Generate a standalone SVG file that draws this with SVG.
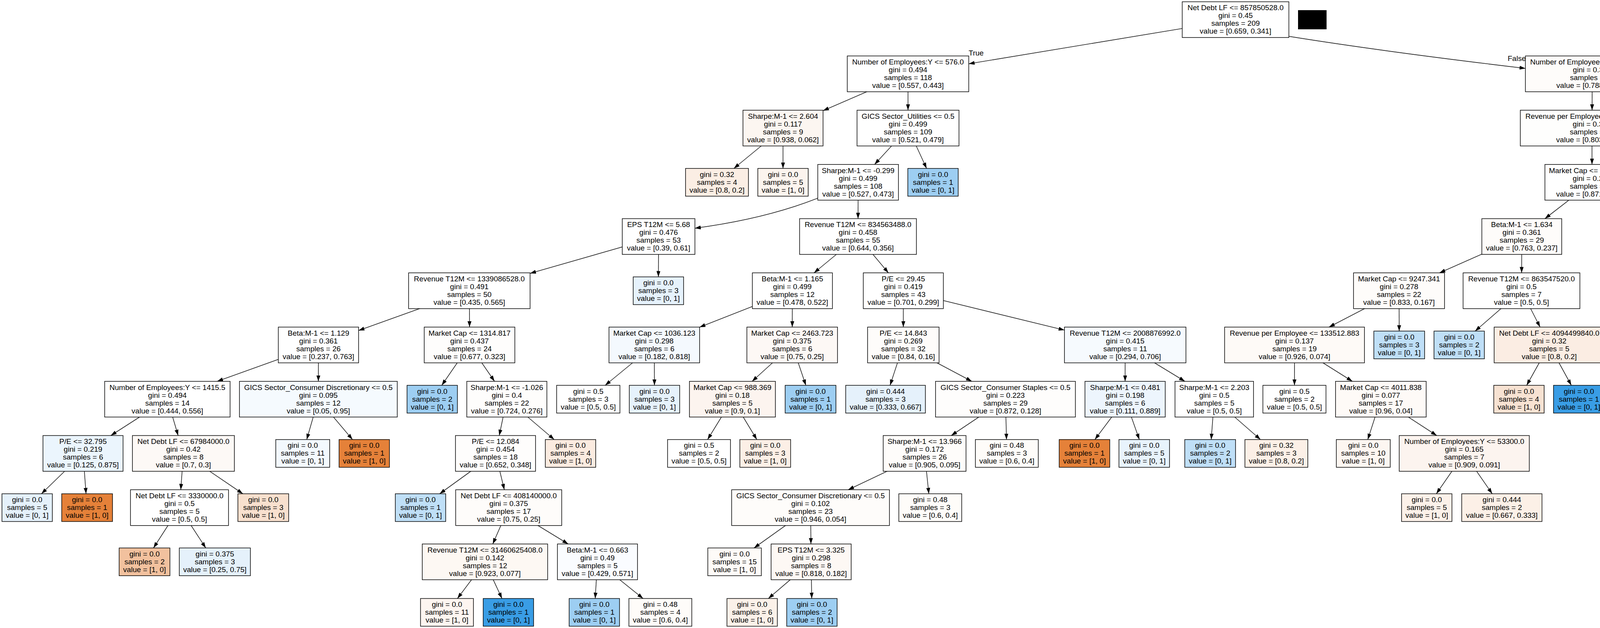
<svg xmlns="http://www.w3.org/2000/svg" width="5680" height="1607" viewBox="0 0 5680 1607">
<style>
.nd rect{stroke:#000;stroke-width:1.5}
text{font-family:"Liberation Sans",Arial,Helvetica,sans-serif;font-size:19px;text-anchor:middle;fill:#000}
#edges path{fill:none;stroke:#1a1a1a;stroke-width:1.6}
</style>
<defs>
<marker id="ah" markerWidth="15" markerHeight="10" refX="15" refY="5" orient="auto" markerUnits="userSpaceOnUse"><path d="M0,0L15,5L0,10z" fill="#000"/></marker>
</defs>
<rect x="0" y="0" width="5680" height="1607" fill="#fff"/>
<g id="edges">
<path d="M3163,50.25L2480,163.3" marker-end="url(#ah)"/>
<path d="M3299.5,93Q3541.75,132 3905,175" marker-end="url(#ah)"/>
<path d="M2324.5,189L2107,283.3" marker-end="url(#ah)"/>
<path d="M2324.5,189L2324.5,282" marker-end="url(#ah)"/>
<path d="M2004.5,327.75L1878.7,431" marker-end="url(#ah)"/>
<path d="M2004.5,327.75L2004.5,431" marker-end="url(#ah)"/>
<path d="M2324.5,327.75L2238.9,420.75" marker-end="url(#ah)"/>
<path d="M2324.5,327.75L2372.1,431" marker-end="url(#ah)"/>
<path d="M2093.5,507Q1960,560 1779,584" marker-end="url(#ah)"/>
<path d="M2196.75,466.5L2196.6,559.5" marker-end="url(#ah)"/>
<path d="M1686,605.25L1357,699.5" marker-end="url(#ah)"/>
<path d="M1686,605.25L1685.5,708.5" marker-end="url(#ah)"/>
<path d="M1201.5,744L918,845.8" marker-end="url(#ah)"/>
<path d="M1201.5,744L1202,837" marker-end="url(#ah)"/>
<path d="M815.25,882.75L556,975.75" marker-end="url(#ah)"/>
<path d="M815.25,882.75L815,975.75" marker-end="url(#ah)"/>
<path d="M428.5,1021.5L283.7,1114.5" marker-end="url(#ah)"/>
<path d="M428.5,1021.5L456,1114.5" marker-end="url(#ah)"/>
<path d="M212.5,1160.25L106.1,1263.5" marker-end="url(#ah)"/>
<path d="M212.5,1160.25L220.3,1263.5" marker-end="url(#ah)"/>
<path d="M469.5,1160.25L462.8,1253.25" marker-end="url(#ah)"/>
<path d="M469.5,1160.25L621.7,1263.5" marker-end="url(#ah)"/>
<path d="M459.5,1299L392.9,1402.25" marker-end="url(#ah)"/>
<path d="M459.5,1299L526.8,1402.25" marker-end="url(#ah)"/>
<path d="M815,1021.5L785.2,1124.75" marker-end="url(#ah)"/>
<path d="M815,1021.5L902.4,1124.75" marker-end="url(#ah)"/>
<path d="M1202,882.75L1130.9,986" marker-end="url(#ah)"/>
<path d="M1202,882.75L1266,975.75" marker-end="url(#ah)"/>
<path d="M1297.5,1021.5L1278.1,1114.5" marker-end="url(#ah)"/>
<path d="M1297.5,1021.5L1418.8,1124.75" marker-end="url(#ah)"/>
<path d="M1268.5,1160.25L1125.6,1263.5" marker-end="url(#ah)"/>
<path d="M1268.5,1160.25L1291.1,1253.25" marker-end="url(#ah)"/>
<path d="M1302.25,1299L1261.5,1392" marker-end="url(#ah)"/>
<path d="M1302.25,1299L1454.6,1392" marker-end="url(#ah)"/>
<path d="M1241.5,1437.75L1171,1531.5" marker-end="url(#ah)"/>
<path d="M1241.5,1437.75L1285,1531.5" marker-end="url(#ah)"/>
<path d="M1529.5,1437.75L1523.7,1531.5" marker-end="url(#ah)"/>
<path d="M1529.5,1437.75L1646.3,1531.5" marker-end="url(#ah)"/>
<path d="M2196.5,605.25L2083.9,698.25" marker-end="url(#ah)"/>
<path d="M2196.5,605.25L2274.3,698.25" marker-end="url(#ah)"/>
<path d="M2028.5,744L1790.9,837.2" marker-end="url(#ah)"/>
<path d="M2028.5,744L2028.2,837" marker-end="url(#ah)"/>
<path d="M1675,882.75L1549.2,986" marker-end="url(#ah)"/>
<path d="M1675,882.75L1675.4,986" marker-end="url(#ah)"/>
<path d="M2028,882.75L1925.4,975.75" marker-end="url(#ah)"/>
<path d="M2028,882.75L2063,986" marker-end="url(#ah)"/>
<path d="M1875,1021.5L1811.4,1124.75" marker-end="url(#ah)"/>
<path d="M1875,1021.5L1937.5,1124.75" marker-end="url(#ah)"/>
<path d="M2312.5,744L2312.5,837" marker-end="url(#ah)"/>
<path d="M2312.5,744L2725,844.8" marker-end="url(#ah)"/>
<path d="M2312.5,882.75L2278.6,986" marker-end="url(#ah)"/>
<path d="M2312.5,882.75L2487.8,975.75" marker-end="url(#ah)"/>
<path d="M2574,1021.5L2435.2,1114.5" marker-end="url(#ah)"/>
<path d="M2574,1021.5L2576.6,1124.75" marker-end="url(#ah)"/>
<path d="M2367,1160.25L2171.3,1253.25" marker-end="url(#ah)"/>
<path d="M2367,1160.25L2377.8,1263.5" marker-end="url(#ah)"/>
<path d="M2075,1299L1930.3,1402.25" marker-end="url(#ah)"/>
<path d="M2075,1299L2076,1392" marker-end="url(#ah)"/>
<path d="M2076.5,1437.75L1967,1531.5" marker-end="url(#ah)"/>
<path d="M2076.5,1437.75L2078,1531.5" marker-end="url(#ah)"/>
<path d="M2880.5,882.75L2880.3,975.75" marker-end="url(#ah)"/>
<path d="M2880.5,882.75L3033.3,975.75" marker-end="url(#ah)"/>
<path d="M2880.25,1021.5L2802.9,1124.75" marker-end="url(#ah)"/>
<path d="M2880.25,1021.5L2916.7,1124.75" marker-end="url(#ah)"/>
<path d="M3108.5,1021.5L3100.7,1124.75" marker-end="url(#ah)"/>
<path d="M3108.5,1021.5L3226.8,1124.75" marker-end="url(#ah)"/>
<path d="M4076,189L4075.7,282" marker-end="url(#ah)"/>
<path d="M4076,189L4298.9,292.25" marker-end="url(#ah)"/>
<path d="M4075.5,327.75L4075.5,420.75" marker-end="url(#ah)"/>
<path d="M4259,372Q4600,412 4862,450" marker-end="url(#ah)"/>
<path d="M4075.5,466.5L3955,559.5" marker-end="url(#ah)"/>
<path d="M4075.5,466.5L4198.5,559.5" marker-end="url(#ah)"/>
<path d="M5017,466.5L5017.3,559.5" marker-end="url(#ah)"/>
<path d="M5017,466.5L5213,564.9" marker-end="url(#ah)"/>
<path d="M3895.75,605.25L3685.1,698.25" marker-end="url(#ah)"/>
<path d="M3895.75,605.25L3895.4,698.25" marker-end="url(#ah)"/>
<path d="M4259,605.25L4259,698.25" marker-end="url(#ah)"/>
<path d="M4259,605.25L4497.6,698.25" marker-end="url(#ah)"/>
<path d="M5017.5,605.25L4970.9,698.25" marker-end="url(#ah)"/>
<path d="M5017.5,605.25L5109,708.5" marker-end="url(#ah)"/>
<path d="M5293.5,605.25L5293.9,708.5" marker-end="url(#ah)"/>
<path d="M5293.5,605.25L5441,698.25" marker-end="url(#ah)"/>
<path d="M3581.5,744L3402.2,837" marker-end="url(#ah)"/>
<path d="M3581.5,744L3581.9,847.25" marker-end="url(#ah)"/>
<path d="M3895,744L3776.3,847.25" marker-end="url(#ah)"/>
<path d="M3895,744L3942.6,837" marker-end="url(#ah)"/>
<path d="M4259,744L4215.5,847.25" marker-end="url(#ah)"/>
<path d="M4259,744L4361.5,847.25" marker-end="url(#ah)"/>
<path d="M4615,744L4615,847.25" marker-end="url(#ah)"/>
<path d="M4615,744L4748.9,847.25" marker-end="url(#ah)"/>
<path d="M4948,744L4948.4,847.25" marker-end="url(#ah)"/>
<path d="M4948,744L5062.2,847.25" marker-end="url(#ah)"/>
<path d="M5513.5,744L5449.8,837" marker-end="url(#ah)"/>
<path d="M5513.5,744L5584.9,847.25" marker-end="url(#ah)"/>
<path d="M3314,882.75L3313.8,986" marker-end="url(#ah)"/>
<path d="M3314,882.75L3462.1,975.75" marker-end="url(#ah)"/>
<path d="M3966,882.75L3908.3,986" marker-end="url(#ah)"/>
<path d="M3966,882.75L4022.6,986" marker-end="url(#ah)"/>
<path d="M5418.5,882.75L5346.5,986" marker-end="url(#ah)"/>
<path d="M5418.5,882.75L5488.4,986" marker-end="url(#ah)"/>
<path d="M3535,1021.5L3501.5,1124.75" marker-end="url(#ah)"/>
<path d="M3535,1021.5L3678.1,1114.5" marker-end="url(#ah)"/>
<path d="M3748.5,1160.25L3677.1,1263.5" marker-end="url(#ah)"/>
<path d="M3748.5,1160.25L3820.1,1263.5" marker-end="url(#ah)"/>
<text x="2499" y="141.5">True</text>
<text x="3883" y="155.5">False</text>
</g>
<rect id="blackbox" x="3323" y="26" width="73" height="49" fill="#000"/>
<g id="nodes">
<g id="n0" class="nd" transform="translate(3163,50.25)"><rect x="-136.5" y="-45.75" width="273" height="91.5" fill="#ffffff"/><text><tspan x="0" y="-24">Net Debt LF &lt;= 857850528.0</tspan><tspan x="0" y="-4">gini = 0.45</tspan><tspan x="0" y="16">samples = 209</tspan><tspan x="0" y="36">value = [0.659, 0.341]</tspan></text></g>
<g id="n1" class="nd" transform="translate(2324.5,189)"><rect x="-155.5" y="-45.75" width="311" height="91.5" fill="#ffffff"/><text><tspan x="0" y="-24">Number of Employees:Y &lt;= 576.0</tspan><tspan x="0" y="-4">gini = 0.494</tspan><tspan x="0" y="16">samples = 118</tspan><tspan x="0" y="36">value = [0.557, 0.443]</tspan></text></g>
<g id="n2" class="nd" transform="translate(4076,189)"><rect x="-171" y="-45.75" width="342" height="91.5" fill="#fefcfa"/><text><tspan x="0" y="-24">Number of Employees:Y &lt;= 338300.0</tspan><tspan x="0" y="-4">gini = 0.334</tspan><tspan x="0" y="16">samples = 91</tspan><tspan x="0" y="36">value = [0.788, 0.212]</tspan></text></g>
<g id="n3" class="nd" transform="translate(2004.5,327.75)"><rect x="-102.5" y="-45.75" width="205" height="91.5" fill="#fcf6f1"/><text><tspan x="0" y="-24">Sharpe:M-1 &lt;= 2.604</tspan><tspan x="0" y="-4">gini = 0.117</tspan><tspan x="0" y="16">samples = 9</tspan><tspan x="0" y="36">value = [0.938, 0.062]</tspan></text></g>
<g id="n4" class="nd" transform="translate(2324.5,327.75)"><rect x="-130.5" y="-45.75" width="261" height="91.5" fill="#ffffff"/><text><tspan x="0" y="-24">GICS Sector_Utilities &lt;= 0.5</tspan><tspan x="0" y="-4">gini = 0.499</tspan><tspan x="0" y="16">samples = 109</tspan><tspan x="0" y="36">value = [0.521, 0.479]</tspan></text></g>
<g id="n5" class="nd" transform="translate(4075.5,327.75)"><rect x="-183.5" y="-45.75" width="367" height="91.5" fill="#fefefd"/><text><tspan x="0" y="-24">Revenue per Employee &lt;= 1148244.062</tspan><tspan x="0" y="-4">gini = 0.317</tspan><tspan x="0" y="16">samples = 88</tspan><tspan x="0" y="36">value = [0.803, 0.197]</tspan></text></g>
<g id="n6" class="nd" transform="translate(4375.5,327.75)"><rect x="-90.5" y="-35.5" width="181" height="71" fill="#e4f1fb"/><text><tspan x="0" y="-14">gini = 0.375</tspan><tspan x="0" y="6">samples = 3</tspan><tspan x="0" y="26">value = [0.25, 0.75]</tspan></text></g>
<g id="n7" class="nd" transform="translate(1835.5,466.5)"><rect x="-80.5" y="-35.5" width="161" height="71" fill="#fbeee4"/><text><tspan x="0" y="-14">gini = 0.32</tspan><tspan x="0" y="6">samples = 4</tspan><tspan x="0" y="26">value = [0.8, 0.2]</tspan></text></g>
<g id="n8" class="nd" transform="translate(2004.5,466.5)"><rect x="-64.5" y="-35.5" width="129" height="71" fill="#fcf4ee"/><text><tspan x="0" y="-14">gini = 0.0</tspan><tspan x="0" y="6">samples = 5</tspan><tspan x="0" y="26">value = [1, 0]</tspan></text></g>
<g id="n9" class="nd" transform="translate(2196.75,466.5)"><rect x="-103.25" y="-45.75" width="206.5" height="91.5" fill="#ffffff"/><text><tspan x="0" y="-24">Sharpe:M-1 &lt;= -0.299</tspan><tspan x="0" y="-4">gini = 0.499</tspan><tspan x="0" y="16">samples = 108</tspan><tspan x="0" y="36">value = [0.527, 0.473]</tspan></text></g>
<g id="n10" class="nd" transform="translate(2388.5,466.5)"><rect x="-64.5" y="-35.5" width="129" height="71" fill="#9dcef2"/><text><tspan x="0" y="-14">gini = 0.0</tspan><tspan x="0" y="6">samples = 1</tspan><tspan x="0" y="26">value = [0, 1]</tspan></text></g>
<g id="n11" class="nd" transform="translate(4075.5,466.5)"><rect x="-120.5" y="-45.75" width="241" height="91.5" fill="#ffffff"/><text><tspan x="0" y="-24">Market Cap &lt;= 10645.638</tspan><tspan x="0" y="-4">gini = 0.224</tspan><tspan x="0" y="16">samples = 65</tspan><tspan x="0" y="36">value = [0.871, 0.129]</tspan></text></g>
<g id="n12" class="nd" transform="translate(5017,466.5)"><rect x="-155" y="-45.75" width="310" height="91.5" fill="#ffffff"/><text><tspan x="0" y="-24">Revenue T12M &lt;= 1957673536.0</tspan><tspan x="0" y="-4">gini = 0.464</tspan><tspan x="0" y="16">samples = 23</tspan><tspan x="0" y="36">value = [0.634, 0.366]</tspan></text></g>
<g id="n13" class="nd" transform="translate(1686,605.25)"><rect x="-93" y="-45.75" width="186" height="91.5" fill="#ffffff"/><text><tspan x="0" y="-24">EPS T12M &lt;= 5.68</tspan><tspan x="0" y="-4">gini = 0.476</tspan><tspan x="0" y="16">samples = 53</tspan><tspan x="0" y="36">value = [0.39, 0.61]</tspan></text></g>
<g id="n14" class="nd" transform="translate(2196.5,605.25)"><rect x="-149.5" y="-45.75" width="299" height="91.5" fill="#ffffff"/><text><tspan x="0" y="-24">Revenue T12M &lt;= 834563488.0</tspan><tspan x="0" y="-4">gini = 0.458</tspan><tspan x="0" y="16">samples = 55</tspan><tspan x="0" y="36">value = [0.644, 0.356]</tspan></text></g>
<g id="n15" class="nd" transform="translate(3895.75,605.25)"><rect x="-102.25" y="-45.75" width="204.5" height="91.5" fill="#fefcfa"/><text><tspan x="0" y="-24">Beta:M-1 &lt;= 1.634</tspan><tspan x="0" y="-4">gini = 0.361</tspan><tspan x="0" y="16">samples = 29</tspan><tspan x="0" y="36">value = [0.763, 0.237]</tspan></text></g>
<g id="n16" class="nd" transform="translate(4259,605.25)"><rect x="-103" y="-45.75" width="206" height="91.5" fill="#fefcfa"/><text><tspan x="0" y="-24">Sharpe:M-1 &lt;= 2.126</tspan><tspan x="0" y="-4">gini = 0.119</tspan><tspan x="0" y="16">samples = 36</tspan><tspan x="0" y="36">value = [0.937, 0.063]</tspan></text></g>
<g id="n17" class="nd" transform="translate(5017.5,605.25)"><rect x="-102.5" y="-45.75" width="205" height="91.5" fill="#fdfaf6"/><text><tspan x="0" y="-24">Beta:M-1 &lt;= 0.707</tspan><tspan x="0" y="-4">gini = 0.091</tspan><tspan x="0" y="16">samples = 11</tspan><tspan x="0" y="36">value = [0.952, 0.048]</tspan></text></g>
<g id="n18" class="nd" transform="translate(5293.5,605.25)"><rect x="-80.5" y="-45.75" width="161" height="91.5" fill="#f8fbfe"/><text><tspan x="0" y="-24">P/E &lt;= 13.922</tspan><tspan x="0" y="-4">gini = 0.42</tspan><tspan x="0" y="16">samples = 12</tspan><tspan x="0" y="36">value = [0.3, 0.7]</tspan></text></g>
<g id="n19" class="nd" transform="translate(1201.5,744)"><rect x="-155.5" y="-45.75" width="311" height="91.5" fill="#ffffff"/><text><tspan x="0" y="-24">Revenue T12M &lt;= 1339086528.0</tspan><tspan x="0" y="-4">gini = 0.491</tspan><tspan x="0" y="16">samples = 50</tspan><tspan x="0" y="36">value = [0.435, 0.565]</tspan></text></g>
<g id="n20" class="nd" transform="translate(1685.5,744)"><rect x="-64.5" y="-35.5" width="129" height="71" fill="#e6f2fc"/><text><tspan x="0" y="-14">gini = 0.0</tspan><tspan x="0" y="6">samples = 3</tspan><tspan x="0" y="26">value = [0, 1]</tspan></text></g>
<g id="n21" class="nd" transform="translate(2028.5,744)"><rect x="-102.5" y="-45.75" width="205" height="91.5" fill="#ffffff"/><text><tspan x="0" y="-24">Beta:M-1 &lt;= 1.165</tspan><tspan x="0" y="-4">gini = 0.499</tspan><tspan x="0" y="16">samples = 12</tspan><tspan x="0" y="36">value = [0.478, 0.522]</tspan></text></g>
<g id="n22" class="nd" transform="translate(2312.5,744)"><rect x="-102.5" y="-45.75" width="205" height="91.5" fill="#ffffff"/><text><tspan x="0" y="-24">P/E &lt;= 29.45</tspan><tspan x="0" y="-4">gini = 0.419</tspan><tspan x="0" y="16">samples = 43</tspan><tspan x="0" y="36">value = [0.701, 0.299]</tspan></text></g>
<g id="n23" class="nd" transform="translate(3581.5,744)"><rect x="-116.5" y="-45.75" width="233" height="91.5" fill="#fefcfa"/><text><tspan x="0" y="-24">Market Cap &lt;= 9247.341</tspan><tspan x="0" y="-4">gini = 0.278</tspan><tspan x="0" y="16">samples = 22</tspan><tspan x="0" y="36">value = [0.833, 0.167]</tspan></text></g>
<g id="n24" class="nd" transform="translate(3895,744)"><rect x="-149.5" y="-45.75" width="299" height="91.5" fill="#ffffff"/><text><tspan x="0" y="-24">Revenue T12M &lt;= 863547520.0</tspan><tspan x="0" y="-4">gini = 0.5</tspan><tspan x="0" y="16">samples = 7</tspan><tspan x="0" y="36">value = [0.5, 0.5]</tspan></text></g>
<g id="n25" class="nd" transform="translate(4259,744)"><rect x="-143" y="-45.75" width="286" height="91.5" fill="#fefcfa"/><text><tspan x="0" y="-24">GICS Sector_Industrials &lt;= 0.5</tspan><tspan x="0" y="-4">gini = 0.036</tspan><tspan x="0" y="16">samples = 30</tspan><tspan x="0" y="36">value = [0.981, 0.019]</tspan></text></g>
<g id="n26" class="nd" transform="translate(4615,744)"><rect x="-166" y="-45.75" width="332" height="91.5" fill="#fefaf7"/><text><tspan x="0" y="-24">Number of Employees:Y &lt;= 40500.0</tspan><tspan x="0" y="-4">gini = 0.444</tspan><tspan x="0" y="16">samples = 6</tspan><tspan x="0" y="36">value = [0.667, 0.333]</tspan></text></g>
<g id="n27" class="nd" transform="translate(4948,744)"><rect x="-102" y="-45.75" width="204" height="91.5" fill="#fbf0e7"/><text><tspan x="0" y="-24">P/E &lt;= 436.565</tspan><tspan x="0" y="-4">gini = 0.278</tspan><tspan x="0" y="16">samples = 5</tspan><tspan x="0" y="36">value = [0.833, 0.167]</tspan></text></g>
<g id="n28" class="nd" transform="translate(5140.5,744)"><rect x="-64.5" y="-35.5" width="129" height="71" fill="#fdf8f3"/><text><tspan x="0" y="-14">gini = 0.0</tspan><tspan x="0" y="6">samples = 6</tspan><tspan x="0" y="26">value = [1, 0]</tspan></text></g>
<g id="n29" class="nd" transform="translate(5294,744)"><rect x="-64" y="-35.5" width="128" height="71" fill="#e3f0fb"/><text><tspan x="0" y="-14">gini = 0.0</tspan><tspan x="0" y="6">samples = 4</tspan><tspan x="0" y="26">value = [0, 1]</tspan></text></g>
<g id="n30" class="nd" transform="translate(5513.5,744)"><rect x="-130.5" y="-45.75" width="261" height="91.5" fill="#ffffff"/><text><tspan x="0" y="-24">GICS Sector_Energy &lt;= 0.5</tspan><tspan x="0" y="-4">gini = 0.497</tspan><tspan x="0" y="16">samples = 8</tspan><tspan x="0" y="36">value = [0.462, 0.538]</tspan></text></g>
<g id="n31" class="nd" transform="translate(815.25,882.75)"><rect x="-102.75" y="-45.75" width="205.5" height="91.5" fill="#ffffff"/><text><tspan x="0" y="-24">Beta:M-1 &lt;= 1.129</tspan><tspan x="0" y="-4">gini = 0.361</tspan><tspan x="0" y="16">samples = 26</tspan><tspan x="0" y="36">value = [0.237, 0.763]</tspan></text></g>
<g id="n32" class="nd" transform="translate(1202,882.75)"><rect x="-116" y="-45.75" width="232" height="91.5" fill="#fefdfc"/><text><tspan x="0" y="-24">Market Cap &lt;= 1314.817</tspan><tspan x="0" y="-4">gini = 0.437</tspan><tspan x="0" y="16">samples = 24</tspan><tspan x="0" y="36">value = [0.677, 0.323]</tspan></text></g>
<g id="n33" class="nd" transform="translate(1675,882.75)"><rect x="-116" y="-45.75" width="232" height="91.5" fill="#f4f9fe"/><text><tspan x="0" y="-24">Market Cap &lt;= 1036.123</tspan><tspan x="0" y="-4">gini = 0.298</tspan><tspan x="0" y="16">samples = 6</tspan><tspan x="0" y="36">value = [0.182, 0.818]</tspan></text></g>
<g id="n34" class="nd" transform="translate(2028,882.75)"><rect x="-116" y="-45.75" width="232" height="91.5" fill="#fdf8f5"/><text><tspan x="0" y="-24">Market Cap &lt;= 2463.723</tspan><tspan x="0" y="-4">gini = 0.375</tspan><tspan x="0" y="16">samples = 6</tspan><tspan x="0" y="36">value = [0.75, 0.25]</tspan></text></g>
<g id="n35" class="nd" transform="translate(2312.5,882.75)"><rect x="-91.5" y="-45.75" width="183" height="91.5" fill="#fefcfa"/><text><tspan x="0" y="-24">P/E &lt;= 14.843</tspan><tspan x="0" y="-4">gini = 0.269</tspan><tspan x="0" y="16">samples = 32</tspan><tspan x="0" y="36">value = [0.84, 0.16]</tspan></text></g>
<g id="n36" class="nd" transform="translate(2880.5,882.75)"><rect x="-155.5" y="-45.75" width="311" height="91.5" fill="#f6fafe"/><text><tspan x="0" y="-24">Revenue T12M &lt;= 2008876992.0</tspan><tspan x="0" y="-4">gini = 0.415</tspan><tspan x="0" y="16">samples = 11</tspan><tspan x="0" y="36">value = [0.294, 0.706]</tspan></text></g>
<g id="n37" class="nd" transform="translate(3314,882.75)"><rect x="-179" y="-45.75" width="358" height="91.5" fill="#fefaf7"/><text><tspan x="0" y="-24">Revenue per Employee &lt;= 133512.883</tspan><tspan x="0" y="-4">gini = 0.137</tspan><tspan x="0" y="16">samples = 19</tspan><tspan x="0" y="36">value = [0.926, 0.074]</tspan></text></g>
<g id="n38" class="nd" transform="translate(3582,882.75)"><rect x="-65" y="-35.5" width="130" height="71" fill="#bfdff7"/><text><tspan x="0" y="-14">gini = 0.0</tspan><tspan x="0" y="6">samples = 3</tspan><tspan x="0" y="26">value = [0, 1]</tspan></text></g>
<g id="n39" class="nd" transform="translate(3735.5,882.75)"><rect x="-64.5" y="-35.5" width="129" height="71" fill="#bfdff7"/><text><tspan x="0" y="-14">gini = 0.0</tspan><tspan x="0" y="6">samples = 2</tspan><tspan x="0" y="26">value = [0, 1]</tspan></text></g>
<g id="n40" class="nd" transform="translate(3966,882.75)"><rect x="-141" y="-45.75" width="282" height="91.5" fill="#fbede3"/><text><tspan x="0" y="-24">Net Debt LF &lt;= 4094499840.0</tspan><tspan x="0" y="-4">gini = 0.32</tspan><tspan x="0" y="16">samples = 5</tspan><tspan x="0" y="36">value = [0.8, 0.2]</tspan></text></g>
<g id="n41" class="nd" transform="translate(4200.5,882.75)"><rect x="-68.5" y="-35.5" width="137" height="71" fill="#fefcfa"/><text><tspan x="0" y="-14">gini = 0.0</tspan><tspan x="0" y="6">samples = 26</tspan><tspan x="0" y="26">value = [1, 0]</tspan></text></g>
<g id="n42" class="nd" transform="translate(4396.75,882.75)"><rect x="-102.25" y="-35.5" width="204.5" height="71" fill="#fbf0e7"/><text><tspan x="0" y="-14">gini = 0.278</tspan><tspan x="0" y="6">samples = 4</tspan><tspan x="0" y="26">value = [0.833, 0.167]</tspan></text></g>
<g id="n43" class="nd" transform="translate(4615,882.75)"><rect x="-91" y="-35.5" width="182" height="71" fill="#e3f0fb"/><text><tspan x="0" y="-14">gini = 0.375</tspan><tspan x="0" y="6">samples = 3</tspan><tspan x="0" y="26">value = [0.25, 0.75]</tspan></text></g>
<g id="n44" class="nd" transform="translate(4795,882.75)"><rect x="-64" y="-35.5" width="128" height="71" fill="#f9e5d6"/><text><tspan x="0" y="-14">gini = 0.0</tspan><tspan x="0" y="6">samples = 3</tspan><tspan x="0" y="26">value = [1, 0]</tspan></text></g>
<g id="n45" class="nd" transform="translate(4948.5,882.75)"><rect x="-64.5" y="-35.5" width="129" height="71" fill="#f8e5d6"/><text><tspan x="0" y="-14">gini = 0.0</tspan><tspan x="0" y="6">samples = 4</tspan><tspan x="0" y="26">value = [1, 0]</tspan></text></g>
<g id="n46" class="nd" transform="translate(5101.5,882.75)"><rect x="-64.5" y="-35.5" width="129" height="71" fill="#399de5"/><text><tspan x="0" y="-14">gini = 0.0</tspan><tspan x="0" y="6">samples = 1</tspan><tspan x="0" y="26">value = [0, 1]</tspan></text></g>
<g id="n47" class="nd" transform="translate(5418.5,882.75)"><rect x="-102.5" y="-45.75" width="205" height="91.5" fill="#fcf0e8"/><text><tspan x="0" y="-24">Beta:M-1 &lt;= 0.906</tspan><tspan x="0" y="-4">gini = 0.245</tspan><tspan x="0" y="16">samples = 5</tspan><tspan x="0" y="36">value = [0.857, 0.143]</tspan></text></g>
<g id="n48" class="nd" transform="translate(5609.5,882.75)"><rect x="-64.5" y="-35.5" width="129" height="71" fill="#e3f0fb"/><text><tspan x="0" y="-14">gini = 0.0</tspan><tspan x="0" y="6">samples = 3</tspan><tspan x="0" y="26">value = [0, 1]</tspan></text></g>
<g id="n49" class="nd" transform="translate(428.5,1021.5)"><rect x="-160.5" y="-45.75" width="321" height="91.5" fill="#ffffff"/><text><tspan x="0" y="-24">Number of Employees:Y &lt;= 1415.5</tspan><tspan x="0" y="-4">gini = 0.494</tspan><tspan x="0" y="16">samples = 14</tspan><tspan x="0" y="36">value = [0.444, 0.556]</tspan></text></g>
<g id="n50" class="nd" transform="translate(815,1021.5)"><rect x="-202" y="-45.75" width="404" height="91.5" fill="#f5fafe"/><text><tspan x="0" y="-24">GICS Sector_Consumer Discretionary &lt;= 0.5</tspan><tspan x="0" y="-4">gini = 0.095</tspan><tspan x="0" y="16">samples = 12</tspan><tspan x="0" y="36">value = [0.05, 0.95]</tspan></text></g>
<g id="n51" class="nd" transform="translate(1106.5,1021.5)"><rect x="-64.5" y="-35.5" width="129" height="71" fill="#9dcef2"/><text><tspan x="0" y="-14">gini = 0.0</tspan><tspan x="0" y="6">samples = 2</tspan><tspan x="0" y="26">value = [0, 1]</tspan></text></g>
<g id="n52" class="nd" transform="translate(1297.5,1021.5)"><rect x="-102.5" y="-45.75" width="205" height="91.5" fill="#fefdfc"/><text><tspan x="0" y="-24">Sharpe:M-1 &lt;= -1.026</tspan><tspan x="0" y="-4">gini = 0.4</tspan><tspan x="0" y="16">samples = 22</tspan><tspan x="0" y="36">value = [0.724, 0.276]</tspan></text></g>
<g id="n53" class="nd" transform="translate(1506,1021.5)"><rect x="-81" y="-35.5" width="162" height="71" fill="#ffffff"/><text><tspan x="0" y="-14">gini = 0.5</tspan><tspan x="0" y="6">samples = 3</tspan><tspan x="0" y="26">value = [0.5, 0.5]</tspan></text></g>
<g id="n54" class="nd" transform="translate(1675.5,1021.5)"><rect x="-64.5" y="-35.5" width="129" height="71" fill="#e6f2fc"/><text><tspan x="0" y="-14">gini = 0.0</tspan><tspan x="0" y="6">samples = 3</tspan><tspan x="0" y="26">value = [0, 1]</tspan></text></g>
<g id="n55" class="nd" transform="translate(1875,1021.5)"><rect x="-110" y="-45.75" width="220" height="91.5" fill="#fcf4ef"/><text><tspan x="0" y="-24">Market Cap &lt;= 988.369</tspan><tspan x="0" y="-4">gini = 0.18</tspan><tspan x="0" y="16">samples = 5</tspan><tspan x="0" y="36">value = [0.9, 0.1]</tspan></text></g>
<g id="n56" class="nd" transform="translate(2075,1021.5)"><rect x="-65" y="-35.5" width="130" height="71" fill="#9dcef2"/><text><tspan x="0" y="-14">gini = 0.0</tspan><tspan x="0" y="6">samples = 1</tspan><tspan x="0" y="26">value = [0, 1]</tspan></text></g>
<g id="n57" class="nd" transform="translate(2267,1021.5)"><rect x="-102" y="-35.5" width="204" height="71" fill="#e5f1fb"/><text><tspan x="0" y="-14">gini = 0.444</tspan><tspan x="0" y="6">samples = 3</tspan><tspan x="0" y="26">value = [0.333, 0.667]</tspan></text></g>
<g id="n58" class="nd" transform="translate(2574,1021.5)"><rect x="-179" y="-45.75" width="358" height="91.5" fill="#fefdfc"/><text><tspan x="0" y="-24">GICS Sector_Consumer Staples &lt;= 0.5</tspan><tspan x="0" y="-4">gini = 0.223</tspan><tspan x="0" y="16">samples = 29</tspan><tspan x="0" y="36">value = [0.872, 0.128]</tspan></text></g>
<g id="n59" class="nd" transform="translate(2880.25,1021.5)"><rect x="-102.75" y="-45.75" width="205.5" height="91.5" fill="#edf5fd"/><text><tspan x="0" y="-24">Sharpe:M-1 &lt;= 0.481</tspan><tspan x="0" y="-4">gini = 0.198</tspan><tspan x="0" y="16">samples = 6</tspan><tspan x="0" y="36">value = [0.111, 0.889]</tspan></text></g>
<g id="n60" class="nd" transform="translate(3108.5,1021.5)"><rect x="-100.5" y="-45.75" width="201" height="91.5" fill="#ffffff"/><text><tspan x="0" y="-24">Sharpe:M-1 &lt;= 2.203</tspan><tspan x="0" y="-4">gini = 0.5</tspan><tspan x="0" y="16">samples = 5</tspan><tspan x="0" y="36">value = [0.5, 0.5]</tspan></text></g>
<g id="n61" class="nd" transform="translate(3313.75,1021.5)"><rect x="-80.75" y="-35.5" width="161.5" height="71" fill="#ffffff"/><text><tspan x="0" y="-14">gini = 0.5</tspan><tspan x="0" y="6">samples = 2</tspan><tspan x="0" y="26">value = [0.5, 0.5]</tspan></text></g>
<g id="n62" class="nd" transform="translate(3535,1021.5)"><rect x="-116" y="-45.75" width="232" height="91.5" fill="#fefaf7"/><text><tspan x="0" y="-24">Market Cap &lt;= 4011.838</tspan><tspan x="0" y="-4">gini = 0.077</tspan><tspan x="0" y="16">samples = 17</tspan><tspan x="0" y="36">value = [0.96, 0.04]</tspan></text></g>
<g id="n63" class="nd" transform="translate(3888.5,1021.5)"><rect x="-64.5" y="-35.5" width="129" height="71" fill="#f7e2d2"/><text><tspan x="0" y="-14">gini = 0.0</tspan><tspan x="0" y="6">samples = 4</tspan><tspan x="0" y="26">value = [1, 0]</tspan></text></g>
<g id="n64" class="nd" transform="translate(4042,1021.5)"><rect x="-65" y="-35.5" width="130" height="71" fill="#399de5"/><text><tspan x="0" y="-14">gini = 0.0</tspan><tspan x="0" y="6">samples = 1</tspan><tspan x="0" y="26">value = [0, 1]</tspan></text></g>
<g id="n65" class="nd" transform="translate(5321.75,1021.5)"><rect x="-102.25" y="-35.5" width="204.5" height="71" fill="#fcefe6"/><text><tspan x="0" y="-14">gini = 0.444</tspan><tspan x="0" y="6">samples = 3</tspan><tspan x="0" y="26">value = [0.667, 0.333]</tspan></text></g>
<g id="n66" class="nd" transform="translate(5512.5,1021.5)"><rect x="-63.5" y="-35.5" width="127" height="71" fill="#f8e2d2"/><text><tspan x="0" y="-14">gini = 0.0</tspan><tspan x="0" y="6">samples = 2</tspan><tspan x="0" y="26">value = [1, 0]</tspan></text></g>
<g id="n67" class="nd" transform="translate(212.5,1160.25)"><rect x="-102.5" y="-45.75" width="205" height="91.5" fill="#ebf5fd"/><text><tspan x="0" y="-24">P/E &lt;= 32.795</tspan><tspan x="0" y="-4">gini = 0.219</tspan><tspan x="0" y="16">samples = 6</tspan><tspan x="0" y="36">value = [0.125, 0.875]</tspan></text></g>
<g id="n68" class="nd" transform="translate(469.5,1160.25)"><rect x="-130.5" y="-45.75" width="261" height="91.5" fill="#fdf9f6"/><text><tspan x="0" y="-24">Net Debt LF &lt;= 67984000.0</tspan><tspan x="0" y="-4">gini = 0.42</tspan><tspan x="0" y="16">samples = 8</tspan><tspan x="0" y="36">value = [0.7, 0.3]</tspan></text></g>
<g id="n69" class="nd" transform="translate(775,1160.25)"><rect x="-69" y="-35.5" width="138" height="71" fill="#f3f9fe"/><text><tspan x="0" y="-14">gini = 0.0</tspan><tspan x="0" y="6">samples = 11</tspan><tspan x="0" y="26">value = [0, 1]</tspan></text></g>
<g id="n70" class="nd" transform="translate(932.5,1160.25)"><rect x="-64.5" y="-35.5" width="129" height="71" fill="#e58139"/><text><tspan x="0" y="-14">gini = 0.0</tspan><tspan x="0" y="6">samples = 1</tspan><tspan x="0" y="26">value = [1, 0]</tspan></text></g>
<g id="n71" class="nd" transform="translate(1268.5,1160.25)"><rect x="-102.5" y="-45.75" width="205" height="91.5" fill="#fefdfc"/><text><tspan x="0" y="-24">P/E &lt;= 12.084</tspan><tspan x="0" y="-4">gini = 0.454</tspan><tspan x="0" y="16">samples = 18</tspan><tspan x="0" y="36">value = [0.652, 0.348]</tspan></text></g>
<g id="n72" class="nd" transform="translate(1460.5,1160.25)"><rect x="-64.5" y="-35.5" width="129" height="71" fill="#fbebe0"/><text><tspan x="0" y="-14">gini = 0.0</tspan><tspan x="0" y="6">samples = 4</tspan><tspan x="0" y="26">value = [1, 0]</tspan></text></g>
<g id="n73" class="nd" transform="translate(1789.5,1160.25)"><rect x="-80.5" y="-35.5" width="161" height="71" fill="#ffffff"/><text><tspan x="0" y="-14">gini = 0.5</tspan><tspan x="0" y="6">samples = 2</tspan><tspan x="0" y="26">value = [0.5, 0.5]</tspan></text></g>
<g id="n74" class="nd" transform="translate(1959,1160.25)"><rect x="-65" y="-35.5" width="130" height="71" fill="#fcefe6"/><text><tspan x="0" y="-14">gini = 0.0</tspan><tspan x="0" y="6">samples = 3</tspan><tspan x="0" y="26">value = [1, 0]</tspan></text></g>
<g id="n75" class="nd" transform="translate(2367,1160.25)"><rect x="-106" y="-45.75" width="212" height="91.5" fill="#fefcfa"/><text><tspan x="0" y="-24">Sharpe:M-1 &lt;= 13.966</tspan><tspan x="0" y="-4">gini = 0.172</tspan><tspan x="0" y="16">samples = 26</tspan><tspan x="0" y="36">value = [0.905, 0.095]</tspan></text></g>
<g id="n76" class="nd" transform="translate(2577.5,1160.25)"><rect x="-80.5" y="-35.5" width="161" height="71" fill="#fefcf9"/><text><tspan x="0" y="-14">gini = 0.48</tspan><tspan x="0" y="6">samples = 3</tspan><tspan x="0" y="26">value = [0.6, 0.4]</tspan></text></g>
<g id="n77" class="nd" transform="translate(2776.25,1160.25)"><rect x="-64.75" y="-35.5" width="129.5" height="71" fill="#e58139"/><text><tspan x="0" y="-14">gini = 0.0</tspan><tspan x="0" y="6">samples = 1</tspan><tspan x="0" y="26">value = [1, 0]</tspan></text></g>
<g id="n78" class="nd" transform="translate(2929.25,1160.25)"><rect x="-64.75" y="-35.5" width="129.5" height="71" fill="#e8f3fc"/><text><tspan x="0" y="-14">gini = 0.0</tspan><tspan x="0" y="6">samples = 5</tspan><tspan x="0" y="26">value = [0, 1]</tspan></text></g>
<g id="n79" class="nd" transform="translate(3098,1160.25)"><rect x="-65" y="-35.5" width="130" height="71" fill="#bfdff7"/><text><tspan x="0" y="-14">gini = 0.0</tspan><tspan x="0" y="6">samples = 2</tspan><tspan x="0" y="26">value = [0, 1]</tspan></text></g>
<g id="n80" class="nd" transform="translate(3267.5,1160.25)"><rect x="-80.5" y="-35.5" width="161" height="71" fill="#fcf0e7"/><text><tspan x="0" y="-14">gini = 0.32</tspan><tspan x="0" y="6">samples = 3</tspan><tspan x="0" y="26">value = [0.8, 0.2]</tspan></text></g>
<g id="n81" class="nd" transform="translate(3490,1160.25)"><rect x="-69" y="-35.5" width="138" height="71" fill="#fdf6f1"/><text><tspan x="0" y="-14">gini = 0.0</tspan><tspan x="0" y="6">samples = 10</tspan><tspan x="0" y="26">value = [1, 0]</tspan></text></g>
<g id="n82" class="nd" transform="translate(3748.5,1160.25)"><rect x="-166.5" y="-45.75" width="333" height="91.5" fill="#fcf4ef"/><text><tspan x="0" y="-24">Number of Employees:Y &lt;= 53300.0</tspan><tspan x="0" y="-4">gini = 0.165</tspan><tspan x="0" y="16">samples = 7</tspan><tspan x="0" y="36">value = [0.909, 0.091]</tspan></text></g>
<g id="n83" class="nd" transform="translate(69.5,1299)"><rect x="-64.5" y="-35.5" width="129" height="71" fill="#e5f1fb"/><text><tspan x="0" y="-14">gini = 0.0</tspan><tspan x="0" y="6">samples = 5</tspan><tspan x="0" y="26">value = [0, 1]</tspan></text></g>
<g id="n84" class="nd" transform="translate(223,1299)"><rect x="-65" y="-35.5" width="130" height="71" fill="#e58139"/><text><tspan x="0" y="-14">gini = 0.0</tspan><tspan x="0" y="6">samples = 1</tspan><tspan x="0" y="26">value = [1, 0]</tspan></text></g>
<g id="n85" class="nd" transform="translate(459.5,1299)"><rect x="-125.5" y="-45.75" width="251" height="91.5" fill="#ffffff"/><text><tspan x="0" y="-24">Net Debt LF &lt;= 3330000.0</tspan><tspan x="0" y="-4">gini = 0.5</tspan><tspan x="0" y="16">samples = 5</tspan><tspan x="0" y="36">value = [0.5, 0.5]</tspan></text></g>
<g id="n86" class="nd" transform="translate(674,1299)"><rect x="-65" y="-35.5" width="130" height="71" fill="#f8e0ce"/><text><tspan x="0" y="-14">gini = 0.0</tspan><tspan x="0" y="6">samples = 3</tspan><tspan x="0" y="26">value = [1, 0]</tspan></text></g>
<g id="n87" class="nd" transform="translate(1076.5,1299)"><rect x="-64.5" y="-35.5" width="129" height="71" fill="#bfdff7"/><text><tspan x="0" y="-14">gini = 0.0</tspan><tspan x="0" y="6">samples = 1</tspan><tspan x="0" y="26">value = [0, 1]</tspan></text></g>
<g id="n88" class="nd" transform="translate(1302.25,1299)"><rect x="-135.75" y="-45.75" width="271.5" height="91.5" fill="#fefcfa"/><text><tspan x="0" y="-24">Net Debt LF &lt;= 408140000.0</tspan><tspan x="0" y="-4">gini = 0.375</tspan><tspan x="0" y="16">samples = 17</tspan><tspan x="0" y="36">value = [0.75, 0.25]</tspan></text></g>
<g id="n89" class="nd" transform="translate(2075,1299)"><rect x="-202" y="-45.75" width="404" height="91.5" fill="#fefcfa"/><text><tspan x="0" y="-24">GICS Sector_Consumer Discretionary &lt;= 0.5</tspan><tspan x="0" y="-4">gini = 0.102</tspan><tspan x="0" y="16">samples = 23</tspan><tspan x="0" y="36">value = [0.946, 0.054]</tspan></text></g>
<g id="n90" class="nd" transform="translate(2381.5,1299)"><rect x="-80.5" y="-35.5" width="161" height="71" fill="#fefcf9"/><text><tspan x="0" y="-14">gini = 0.48</tspan><tspan x="0" y="6">samples = 3</tspan><tspan x="0" y="26">value = [0.6, 0.4]</tspan></text></g>
<g id="n91" class="nd" transform="translate(3652.5,1299)"><rect x="-64.5" y="-35.5" width="129" height="71" fill="#fcf1e9"/><text><tspan x="0" y="-14">gini = 0.0</tspan><tspan x="0" y="6">samples = 5</tspan><tspan x="0" y="26">value = [1, 0]</tspan></text></g>
<g id="n92" class="nd" transform="translate(3844.75,1299)"><rect x="-102.75" y="-35.5" width="205.5" height="71" fill="#fcf0e7"/><text><tspan x="0" y="-14">gini = 0.444</tspan><tspan x="0" y="6">samples = 2</tspan><tspan x="0" y="26">value = [0.667, 0.333]</tspan></text></g>
<g id="n93" class="nd" transform="translate(370,1437.75)"><rect x="-65" y="-35.5" width="130" height="71" fill="#f2c19e"/><text><tspan x="0" y="-14">gini = 0.0</tspan><tspan x="0" y="6">samples = 2</tspan><tspan x="0" y="26">value = [1, 0]</tspan></text></g>
<g id="n94" class="nd" transform="translate(550,1437.75)"><rect x="-91" y="-35.5" width="182" height="71" fill="#e5f1fb"/><text><tspan x="0" y="-14">gini = 0.375</tspan><tspan x="0" y="6">samples = 3</tspan><tspan x="0" y="26">value = [0.25, 0.75]</tspan></text></g>
<g id="n95" class="nd" transform="translate(1241.5,1437.75)"><rect x="-160.5" y="-45.75" width="321" height="91.5" fill="#fdf8f3"/><text><tspan x="0" y="-24">Revenue T12M &lt;= 31460625408.0</tspan><tspan x="0" y="-4">gini = 0.142</tspan><tspan x="0" y="16">samples = 12</tspan><tspan x="0" y="36">value = [0.923, 0.077]</tspan></text></g>
<g id="n96" class="nd" transform="translate(1529.5,1437.75)"><rect x="-102.5" y="-45.75" width="205" height="91.5" fill="#fafcff"/><text><tspan x="0" y="-24">Beta:M-1 &lt;= 0.663</tspan><tspan x="0" y="-4">gini = 0.49</tspan><tspan x="0" y="16">samples = 5</tspan><tspan x="0" y="36">value = [0.429, 0.571]</tspan></text></g>
<g id="n97" class="nd" transform="translate(1880.5,1437.75)"><rect x="-68.5" y="-35.5" width="137" height="71" fill="#fefbf8"/><text><tspan x="0" y="-14">gini = 0.0</tspan><tspan x="0" y="6">samples = 15</tspan><tspan x="0" y="26">value = [1, 0]</tspan></text></g>
<g id="n98" class="nd" transform="translate(2076.5,1437.75)"><rect x="-102.5" y="-45.75" width="205" height="91.5" fill="#fdf8f4"/><text><tspan x="0" y="-24">EPS T12M &lt;= 3.325</tspan><tspan x="0" y="-4">gini = 0.298</tspan><tspan x="0" y="16">samples = 8</tspan><tspan x="0" y="36">value = [0.818, 0.182]</tspan></text></g>
<g id="n99" class="nd" transform="translate(1144.25,1567)"><rect x="-67.75" y="-35.5" width="135.5" height="71" fill="#fdf5f0"/><text><tspan x="0" y="-14">gini = 0.0</tspan><tspan x="0" y="6">samples = 11</tspan><tspan x="0" y="26">value = [1, 0]</tspan></text></g>
<g id="n100" class="nd" transform="translate(1301.5,1567)"><rect x="-64.5" y="-35.5" width="129" height="71" fill="#399de5"/><text><tspan x="0" y="-14">gini = 0.0</tspan><tspan x="0" y="6">samples = 1</tspan><tspan x="0" y="26">value = [0, 1]</tspan></text></g>
<g id="n101" class="nd" transform="translate(1521.5,1567)"><rect x="-64.5" y="-35.5" width="129" height="71" fill="#9dcef2"/><text><tspan x="0" y="-14">gini = 0.0</tspan><tspan x="0" y="6">samples = 1</tspan><tspan x="0" y="26">value = [0, 1]</tspan></text></g>
<g id="n102" class="nd" transform="translate(1690.5,1567)"><rect x="-80.5" y="-35.5" width="161" height="71" fill="#fefcf9"/><text><tspan x="0" y="-14">gini = 0.48</tspan><tspan x="0" y="6">samples = 4</tspan><tspan x="0" y="26">value = [0.6, 0.4]</tspan></text></g>
<g id="n103" class="nd" transform="translate(1925.5,1567)"><rect x="-64.5" y="-35.5" width="129" height="71" fill="#fbf1e9"/><text><tspan x="0" y="-14">gini = 0.0</tspan><tspan x="0" y="6">samples = 6</tspan><tspan x="0" y="26">value = [1, 0]</tspan></text></g>
<g id="n104" class="nd" transform="translate(2078.5,1567)"><rect x="-64.5" y="-35.5" width="129" height="71" fill="#9dcef2"/><text><tspan x="0" y="-14">gini = 0.0</tspan><tspan x="0" y="6">samples = 2</tspan><tspan x="0" y="26">value = [0, 1]</tspan></text></g>
</g>
</svg>
